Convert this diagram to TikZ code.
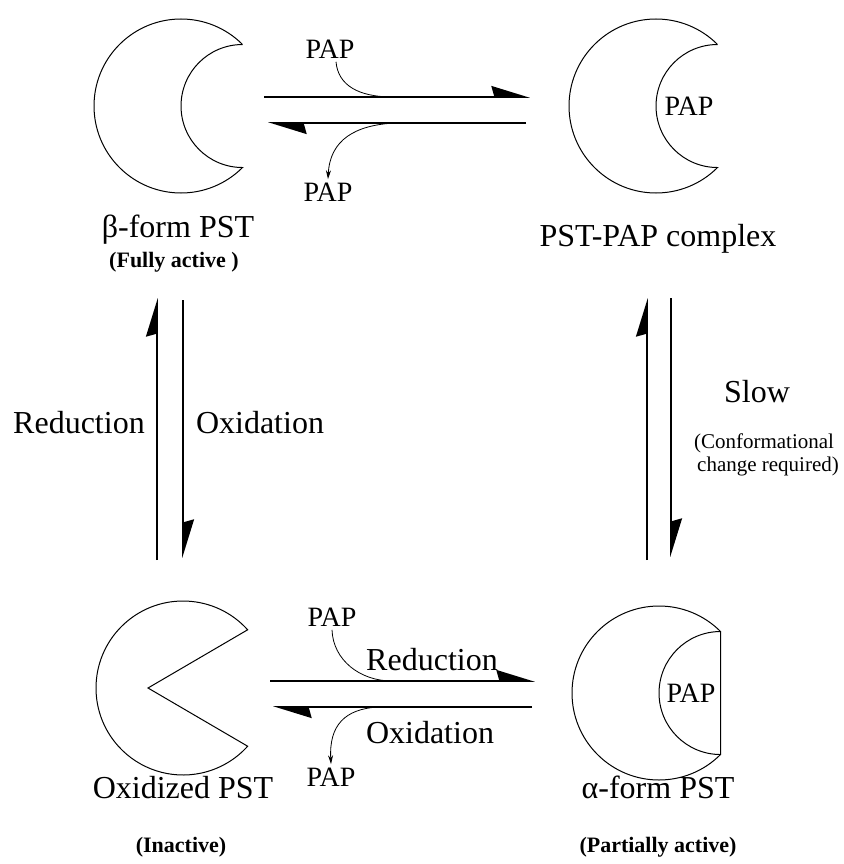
\documentclass[tikz,border=0pt]{standalone}
\usepackage{fontspec}
\setmainfont{Liberation Serif}
\usetikzlibrary{arrows.meta}

\tikzset{
  enzyme/.style={draw, line width=1pt},
  react/.style={line width=1.6pt, -{Stealth[harpoon, length=36pt, width=22pt, inset=3pt]}},
  papin/.style={line width=0.8pt},
  papout/.style={line width=0.8pt, -{Stealth[length=9pt, width=5pt]}},
  big/.style={font=\fontsize{32}{36}\selectfont},
  mid/.style={font=\fontsize{28}{32}\selectfont},
  small/.style={font=\fontsize{21}{24}\selectfont},
  note/.style={font=\bfseries\fontsize{22}{26}\selectfont},
}

\begin{document}
\begin{tikzpicture}[x=1pt, y=1pt]
\useasboundingbox (0,0) rectangle (843,-864);
% enzyme centres
\coordinate (beta) at (181,-106);
\coordinate (cplx) at (656,-106);
\coordinate (oxid) at (183,-688);
\coordinate (alpha) at (659,-693);

% beta form, open crescent
\draw[enzyme] ([shift={(45:87)}]beta) arc[start angle=45, end angle=315, radius=87]
  arc[start angle=-90, end angle=-270, radius=61.5];
% PST-PAP complex
\draw[enzyme] ([shift={(45:87)}]cplx) arc[start angle=45, end angle=315, radius=87]
  arc[start angle=-90, end angle=-270, radius=61.5];
\node[mid] (pap-c) at ([xshift=33pt]cplx) {PAP};
% oxidized form
\draw[enzyme] ([xshift=-35pt]oxid) -- ([shift={(42:87)}]oxid)
  arc[start angle=42, end angle=318, radius=87] -- cycle;
% alpha form
\draw[enzyme] ([shift={(45:87)}]alpha) arc[start angle=45, end angle=315, radius=87] -- cycle;
\draw[enzyme] ([shift={(-45:87)}]alpha) arc[start angle=-90, end angle=-270, radius=61.5];
\node[mid] (pap-a) at ([xshift=32pt]alpha) {PAP};

% labels
\node[big, anchor=base] (beta-lbl) at (178,-237) {β-form PST};
\node[note, anchor=base] (beta-note) at (174,-267) {(Fully active )};
\node[big, anchor=base] (cplx-lbl) at (658,-246) {PST-PAP complex};
\node[big, anchor=base] (oxid-lbl) at (183,-798) {Oxidized PST};
\node[note, anchor=base] (oxid-note) at (181,-852) {(Inactive)};
\node[big, anchor=base] (alpha-lbl) at (658,-798) {α-form PST};
\node[note, anchor=base] (alpha-note) at (658,-852) {(Partially active)};

\node[big, anchor=base] (red-l) at (79,-433) {Reduction};
\node[big, anchor=base] (ox-l) at (260,-433) {Oxidation};
\node[big, anchor=base] (slow) at (757,-402) {Slow};
\node[small, anchor=base] (conf1) at (764,-448) {(Conformational};
\node[small, anchor=base] (conf2) at (768,-471) {change required)};
\node[big, anchor=base] (red-b) at (432,-670) {Reduction};
\node[big, anchor=base] (ox-b) at (430,-743) {Oxidation};

% PAP in and out
\node[mid] (pap1) at (330,-49) {PAP};
\node[mid] (pap2) at (328,-192) {PAP};
\node[mid] (pap3) at (332,-617) {PAP};
\node[mid] (pap4) at (331,-777) {PAP};

% arrow ends
\coordinate (bind-s) at (264,-97);  \coordinate (bind-e) at (530,-97);
\coordinate (rel-s) at (526,-123);  \coordinate (rel-e) at (268,-123);
\coordinate (red-s) at (270,-681);  \coordinate (red-e) at (535,-681);
\coordinate (ox-s) at (532,-707);   \coordinate (ox-e) at (273,-707);
\coordinate (up-s) at (157,-560);   \coordinate (up-e) at (157,-298);
\coordinate (dn-s) at (183,-300);   \coordinate (dn-e) at (183,-558);
\coordinate (up2-s) at (647,-560);  \coordinate (up2-e) at (647,-298);
\coordinate (dn2-s) at (671,-298);  \coordinate (dn2-e) at (671,-557);

\draw[react] (bind-s) -- (bind-e);
\draw[react] (rel-s) -- (rel-e);
\draw[react] (red-s) -- (red-e);
\draw[react] (ox-s) -- (ox-e);
\draw[react] (up-s) -- (up-e);
\draw[react] (dn-s) -- (dn-e);
\draw[react] (up2-s) -- (up2-e);
\draw[react] (dn2-s) -- (dn2-e);

\coordinate (j1) at (393,-97);
\coordinate (j2) at (395,-123);
\coordinate (j3) at (392,-681);
\coordinate (j4) at (378,-707);
\draw[papin] ([xshift=6pt]pap1.south) .. controls (338,-85) and (358,-97) .. (j1);
\draw[papout] (j2) .. controls (355,-125) and (330,-140) .. (pap2.north);
\draw[papin] (pap3.south) .. controls (333,-660) and (360,-681) .. (j3);
\draw[papout] (j4) .. controls (345,-709) and (329,-725) .. (pap4.north);
\end{tikzpicture}
\end{document}
